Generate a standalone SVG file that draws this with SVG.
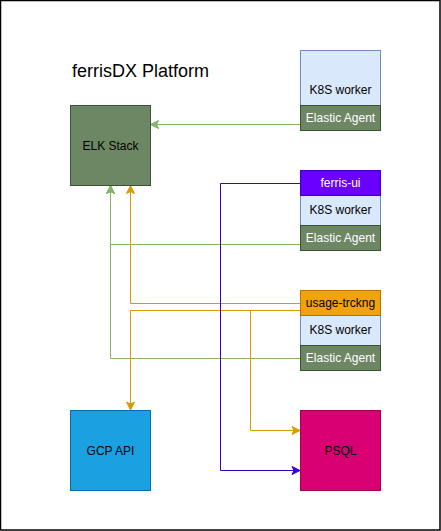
<svg xmlns="http://www.w3.org/2000/svg" width="441" height="531" viewBox="0 0 441 531">
<style>
text{font-family:"Liberation Sans",Arial,sans-serif;font-size:12px;text-anchor:middle}
.dark{fill:#000}
.light{fill:#ffffff}
.k8s{fill:#dae8fc;stroke:#6c8ebf}
.ea{fill:#6d8764;stroke:#3a5431}
.e{fill:none;stroke-width:1}
.g{stroke:#82b366}
.o{stroke:#d79b00}
.p{stroke:#3700cc}
</style>
<defs>
<marker id="ag" markerUnits="userSpaceOnUse" markerWidth="10" markerHeight="10" viewBox="0 0 10 10" refX="9" refY="5" orient="auto"><path d="M1,1 L9,5 L1,9 L3,5 Z" fill="#82b366" stroke="#82b366" stroke-width="1"/></marker>
<marker id="ao" markerUnits="userSpaceOnUse" markerWidth="10" markerHeight="10" viewBox="0 0 10 10" refX="9" refY="5" orient="auto"><path d="M1,1 L9,5 L1,9 L3,5 Z" fill="#d79b00" stroke="#d79b00" stroke-width="1"/></marker>
<marker id="ap" markerUnits="userSpaceOnUse" markerWidth="10" markerHeight="10" viewBox="0 0 10 10" refX="9" refY="5" orient="auto"><path d="M1,1 L9,5 L1,9 L3,5 Z" fill="#3700cc" stroke="#3700cc" stroke-width="1"/></marker>
</defs>
<rect x="0.5" y="0.5" width="439.5" height="529.5" fill="#ffffff" stroke="#000000" stroke-width="1.5"/>
<text x="72" y="77" style="font-size:18px;text-anchor:start" class="dark">ferrisDX Platform</text>

<g id="connectors">
<path class="e g" d="M300,124.5 H150.5" marker-end="url(#ag)"/>
<path class="e g" d="M300,244.5 H110.5 V185.5" marker-end="url(#ag)"/>
<path class="e g" d="M300,358.5 H110.5 V185.5" marker-end="url(#ag)"/>
<path class="e o" d="M300,303.5 H130.5 V185.5" marker-end="url(#ao)"/>
<path class="e o" d="M300,310.5 H130.5 V410" marker-end="url(#ao)"/>
<path class="e o" d="M300,310.5 H250.5 V430.5 H300" marker-end="url(#ao)"/>
<path class="e p" d="M300,183.5 H220.5 V470.5 H300" marker-end="url(#ap)"/>
</g>

<g id="elk">
<rect x="70.5" y="105.5" width="80" height="80" class="ea"/>
<text x="110.5" y="149.5" class="dark">ELK Stack</text>
</g>

<g id="worker1">
<rect x="300.5" y="50.5" width="80" height="80" class="k8s"/>
<text x="340.5" y="94" class="dark">K8S worker</text>
<rect x="300.5" y="105.5" width="80" height="25" class="ea"/>
<text x="340.5" y="122" class="light">Elastic Agent</text>
</g>

<g id="worker2">
<rect x="300.5" y="170.5" width="80" height="80" class="k8s"/>
<text x="340.5" y="214" class="dark">K8S worker</text>
<rect x="300.5" y="170.5" width="80" height="25" fill="#6a00ff" stroke="#3700cc"/>
<text x="340.5" y="187" class="light">ferris-ui</text>
<rect x="300.5" y="225.5" width="80" height="25" class="ea"/>
<text x="340.5" y="242" class="light">Elastic Agent</text>
</g>

<g id="worker3">
<rect x="300.5" y="290.5" width="80" height="80" class="k8s"/>
<text x="340.5" y="334" class="dark">K8S worker</text>
<rect x="300.5" y="290.5" width="80" height="25" fill="#f0a30a" stroke="#bd7000"/>
<text x="340.5" y="307" class="dark">usage-trckng</text>
<rect x="300.5" y="345.5" width="80" height="25" class="ea"/>
<text x="340.5" y="362" class="light">Elastic Agent</text>
</g>

<g id="gcp">
<rect x="70.5" y="410.5" width="80" height="80" fill="#1ba1e2" stroke="#006eaf"/>
<text x="110.5" y="454.5" class="dark">GCP API</text>
</g>

<g id="psql">
<rect x="300.5" y="410.5" width="80" height="80" fill="#d80073" stroke="#a50040"/>
<text x="340.5" y="454.5" class="dark">PSQL</text>
</g>
</svg>
